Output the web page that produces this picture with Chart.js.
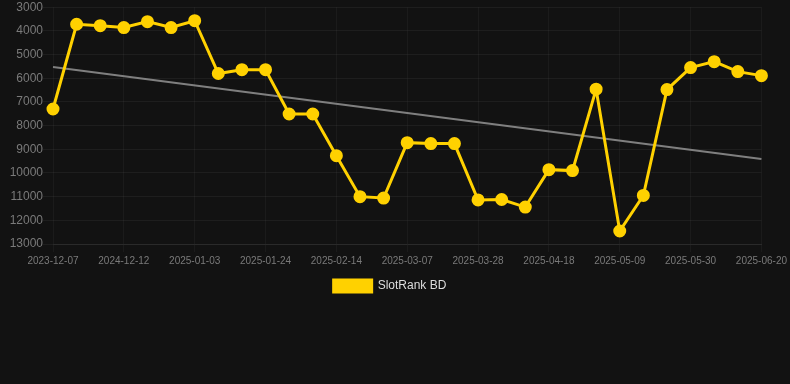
<!DOCTYPE html>
<html>
<head>
<meta charset="utf-8">
<script src="https://cdn.jsdelivr.net/npm/chart.js@4"></script>
<style>
    html, body { margin: 0; padding: 0; background: #121212; }
    #wrap { width: 790px; height: 302px; }
</style>
</head>
<body>
<div id="wrap"><canvas id="rankChart"></canvas></div>
<script>
// dates (only every third one is shown on the axis)
const labels = [
    "2023-12-07", "2024-11-28", "2024-12-05", "2024-12-12", "2024-12-19", "2024-12-26",
    "2025-01-03", "2025-01-10", "2025-01-17", "2025-01-24", "2025-01-31", "2025-02-07",
    "2025-02-14", "2025-02-21", "2025-02-28", "2025-03-07", "2025-03-14", "2025-03-21",
    "2025-03-28", "2025-04-04", "2025-04-11", "2025-04-18", "2025-04-25", "2025-05-02",
    "2025-05-09", "2025-05-16", "2025-05-23", "2025-05-30", "2025-06-06", "2025-06-13",
    "2025-06-20"
];

const rankValues = [
    7300, 3720, 3780, 3860, 3610, 3860, 3570, 5800, 5640, 5640,
    7510, 7510, 9270, 11000, 11060, 8720, 8760, 8760, 11140, 11120,
    11440, 9860, 9900, 6460, 12450, 10950, 6480, 5550, 5300, 5720,
    5890
];

// trend line end points
const trendStart = 5530;
const trendEnd = 9410;

const yTicks = [3000, 4000, 5000, 6000, 7000, 8000, 9000, 10000, 11000, 12000, 13000];

const trendValues = labels.map((l, i) => {
    if (i === 0) return trendStart;
    if (i === labels.length - 1) return trendEnd;
    return null;
});

Chart.defaults.font.family = "Arial, 'Liberation Sans', sans-serif";

new Chart(document.getElementById("rankChart"), {
    type: "line",
    data: {
        labels: labels,
        datasets: [
            {
                label: "SlotRank BD",
                data: rankValues,
                borderColor: "#ffd100",
                backgroundColor: "#ffd100",
                borderWidth: 3,
                pointRadius: 5,
                pointBackgroundColor: "#ffd100",
                pointBorderColor: "#ffd100",
                tension: 0,
                clip: 8
            },
            {
                label: "Trend",
                data: trendValues,
                spanGaps: true,
                borderColor: "rgba(140,140,140,0.9)",
                borderWidth: 2,
                pointRadius: 0
            }
        ]
    },
    options: {
        responsive: true,
        maintainAspectRatio: false,
        animation: false,
        layout: { autoPadding: false, padding: { left: 0, right: 10, top: 0, bottom: 0 } },
        scales: {
            x: {
                grid: { color: "rgba(255,255,255,0.04)" },
                border: { color: "#2a2a2a" },
                ticks: {
                    color: "#7a7a7a",
                    font: { size: 10 },
                    maxRotation: 0,
                    autoSkip: true,
                    maxTicksLimit: 11
                }
            },
            y: {
                reverse: true,
                min: yTicks[0],
                max: yTicks[yTicks.length - 1],
                grid: { color: "rgba(255,255,255,0.05)", tickLength: 10 },
                border: { display: false },
                afterBuildTicks: (axis) => {
                    axis.ticks = yTicks.map(v => ({ value: v }));
                },
                afterFit: (axis) => {
                    axis.width = 53;
                },
                ticks: {
                    color: "#7a7a7a",
                    padding: 0,
                    font: { size: 12 },
                    callback: (v) => String(v)
                }
            }
        },
        plugins: {
            legend: {
                position: "bottom",
                labels: {
                    color: "#dddddd",
                    font: { size: 12 },
                    boxWidth: 38,
                    boxHeight: 12,
                    filter: (item) => item.datasetIndex === 0
                }
            },
            tooltip: { enabled: false }
        }
    }
});
</script>
</body>
</html>
